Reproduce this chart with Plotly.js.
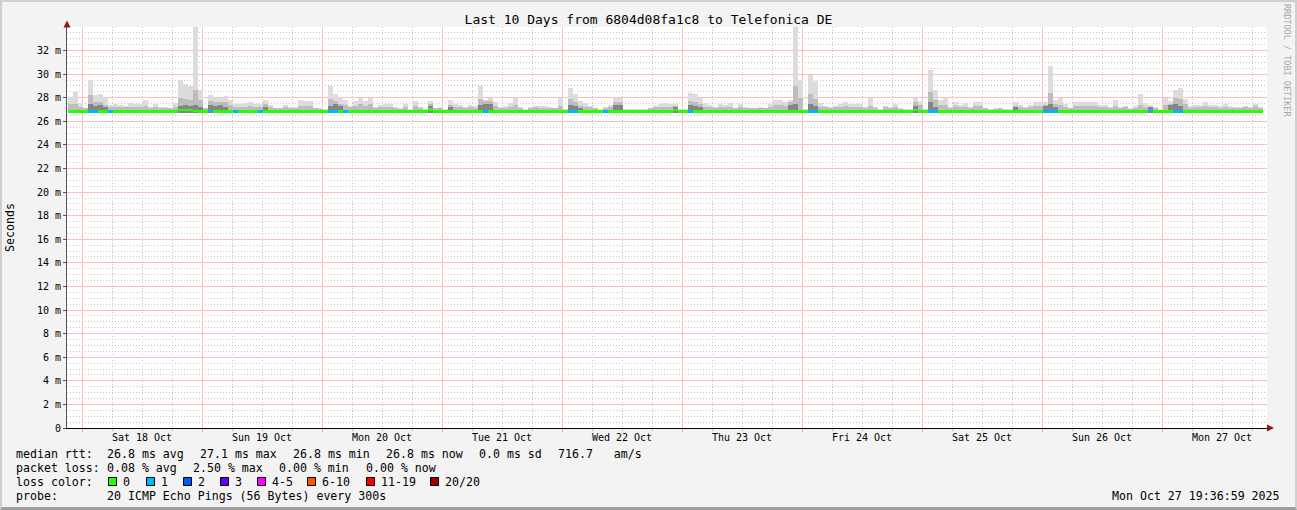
<!DOCTYPE html>
<html><head><meta charset="utf-8">
<script src="https://cdn.plot.ly/plotly-3.0.1.min.js"></script>
<style>
html,body{margin:0;padding:0;background:#f3f3f3;}
#wrap{position:relative;width:1297px;height:510px;overflow:hidden;}
#chart{width:1297px;height:510px;}
#frame{position:absolute;left:0;top:0;width:1297px;height:510px;box-sizing:border-box;border-style:solid;border-width:2px 2px 3px 2px;border-color:#cfcfcf #cfcfcf #9e9e9e #cfcfcf;pointer-events:none;}
</style></head><body>
<div id="wrap"><div id="chart"></div><div id="frame"></div></div>
<script>
// ---------- data (milliseconds, one value per hourly step) ----------
const firstStepCenter = '2025-10-17 21:42:00';
const stepHours = 1;
const smokeBase = 26.7;

const smokeMax = [
 28.05,28.47,27.59,27.15,29.54,28.27,28.35,28.00,27.39,27.45,27.39,27.33,
 27.56,27.45,27.45,27.79,27.22,27.50,27.22,27.22,27.16,27.56,29.49,29.20,
 28.97,33.96,28.69,27.16,28.27,28.00,28.00,28.18,27.84,27.45,27.50,27.56,
 27.67,27.45,27.45,27.79,27.39,27.16,27.16,27.39,27.22,27.22,27.79,27.70,
 27.73,27.16,27.11,27.05,29.03,28.35,27.96,27.84,27.33,27.73,28.00,27.73,
 28.00,27.22,27.39,27.45,27.45,27.22,27.11,27.45,27.05,27.73,27.22,27.05,
 27.73,27.16,27.22,27.05,27.84,27.45,27.39,27.22,27.39,27.28,29.03,27.84,
 27.96,27.67,27.22,27.28,27.56,28.00,27.22,27.05,27.22,27.33,27.28,27.28,
 27.22,27.16,28.00,27.05,28.86,28.35,27.73,27.56,27.33,27.16,27.05,27.22,
 27.39,28.00,27.96,27.05,27.05,27.05,27.05,27.05,27.16,27.33,27.45,27.56,
 27.45,27.45,27.05,27.05,28.41,28.30,28.00,27.56,27.39,27.22,27.50,27.39,
 27.56,27.16,27.45,27.22,27.16,27.16,27.22,27.16,27.45,27.84,27.79,27.67,
 27.84,34.00,29.49,27.05,29.94,29.43,27.56,27.33,27.22,27.33,27.45,27.67,
 27.45,27.45,27.45,27.22,27.96,27.22,27.05,27.33,27.22,27.45,27.11,27.05,
 27.05,27.96,27.73,27.05,30.33,28.69,27.79,28.00,27.22,27.62,27.39,27.56,
 27.22,27.62,27.62,27.16,27.05,27.11,27.16,27.05,27.05,27.62,27.39,27.22,
 27.39,27.62,27.62,27.67,30.73,27.79,27.96,27.45,27.16,27.62,27.62,27.62,
 27.62,27.62,27.39,27.39,27.22,27.79,27.22,27.33,27.11,27.28,28.35,27.56,
 27.39,27.22,27.05,27.96,27.73,28.63,28.80,27.90,27.28,27.39,27.39,27.62,
 27.39,27.39,27.28,27.50,27.28,27.22,27.22,27.33,27.22,27.45,27.22
];

const smokeMid = [
 27.5,27.5,27.2,27.1,28.2,27.6,27.6,27.4,27.2,27.2,27.2,27.2,
 27.2,27.2,27.2,27.3,27.1,27.2,27.1,27.1,27.1,27.2,28.0,27.9,
 27.8,28.7,27.8,27.1,27.7,27.6,27.6,27.6,27.4,27.2,27.2,27.2,
 27.3,27.2,27.2,27.5,27.2,27.1,27.1,27.2,27.1,27.1,27.3,27.3,
 27.3,27.1,27.05,27.0,27.9,27.7,27.5,27.4,27.2,27.3,27.5,27.3,
 27.5,27.1,27.2,27.2,27.2,27.1,27.05,27.2,27.0,27.3,27.1,27.0,
 27.5,27.1,27.1,27.0,27.4,27.2,27.2,27.1,27.2,27.1,27.9,27.7,
 27.7,27.3,27.1,27.1,27.2,27.4,27.1,27.0,27.1,27.2,27.1,27.1,
 27.1,27.1,27.3,27.0,27.9,27.6,27.3,27.2,27.2,27.1,27.0,27.1,
 27.2,27.6,27.6,27.0,27.0,27.0,27.0,27.0,27.1,27.2,27.2,27.2,
 27.2,27.3,27.0,27.0,27.7,27.6,27.5,27.2,27.2,27.1,27.2,27.2,
 27.2,27.1,27.2,27.1,27.1,27.1,27.1,27.1,27.2,27.4,27.4,27.3,
 27.6,29.0,28.0,27.0,28.3,27.9,27.2,27.2,27.1,27.2,27.2,27.3,
 27.2,27.2,27.2,27.1,27.3,27.1,27.0,27.2,27.1,27.2,27.05,27.0,
 27.0,27.6,27.4,27.0,28.5,27.8,27.4,27.4,27.1,27.3,27.2,27.2,
 27.1,27.3,27.3,27.1,27.0,27.05,27.1,27.0,27.0,27.3,27.2,27.1,
 27.2,27.3,27.3,27.4,28.4,27.5,27.4,27.2,27.1,27.3,27.3,27.3,
 27.3,27.3,27.2,27.2,27.1,27.3,27.1,27.2,27.05,27.1,27.4,27.2,
 27.2,27.1,27.0,27.4,27.5,28.0,27.9,27.5,27.1,27.2,27.2,27.3,
 27.2,27.2,27.1,27.2,27.1,27.1,27.1,27.2,27.1,27.3,27.1
];

const smokeLow = [
 27.0,27.0,27.0,27.0,27.5,27.3,27.4,27.2,27.0,27.0,27.0,27.0,
 27.0,27.0,27.0,27.0,27.0,27.0,27.0,27.0,27.0,27.0,27.3,27.4,
 27.3,27.4,27.2,27.0,27.4,27.3,27.4,27.2,27.0,27.0,27.0,27.0,
 27.0,27.0,27.0,27.2,27.0,27.0,27.0,27.0,27.0,27.0,27.0,27.0,
 27.0,27.0,27.0,27.0,27.3,27.5,27.3,27.0,27.0,27.0,27.0,27.0,
 27.0,27.0,27.0,27.0,27.0,27.0,27.0,27.0,27.0,27.0,27.0,27.0,
 27.3,27.0,27.0,27.0,27.2,27.0,27.0,27.0,27.0,27.0,27.4,27.5,
 27.5,27.0,27.0,27.0,27.0,27.0,27.0,27.0,27.0,27.0,27.0,27.0,
 27.0,27.0,27.0,27.0,27.4,27.3,27.1,27.0,27.0,27.0,27.0,27.0,
 27.0,27.4,27.4,27.0,27.0,27.0,27.0,27.0,27.0,27.0,27.0,27.0,
 27.0,27.2,27.0,27.0,27.4,27.3,27.2,27.0,27.0,27.0,27.0,27.0,
 27.0,27.0,27.0,27.0,27.0,27.0,27.0,27.0,27.0,27.0,27.0,27.0,
 27.4,27.5,27.0,27.0,27.5,27.3,27.0,27.0,27.0,27.0,27.0,27.0,
 27.0,27.0,27.0,27.0,27.0,27.0,27.0,27.0,27.0,27.0,27.0,27.0,
 27.0,27.3,27.0,27.0,27.6,27.2,27.0,27.0,27.0,27.0,27.0,27.0,
 27.0,27.0,27.0,27.0,27.0,27.0,27.0,27.0,27.0,27.2,27.0,27.0,
 27.0,27.0,27.0,27.3,27.5,27.2,27.0,27.0,27.0,27.0,27.0,27.0,
 27.0,27.0,27.0,27.0,27.0,27.0,27.0,27.0,27.0,27.0,27.0,27.0,
 27.2,27.0,27.0,27.0,27.4,27.5,27.3,27.0,27.0,27.0,27.0,27.0,
 27.0,27.0,27.0,27.0,27.0,27.0,27.0,27.0,27.0,27.0,27.0
];

const medianRtt = [
 26.85,26.85,26.85,26.85,26.85,26.85,26.85,26.85,26.85,26.85,26.85,26.85,
 26.85,26.85,26.85,26.85,26.85,26.85,26.85,26.85,26.85,26.85,26.95,26.95,
 26.95,26.90,26.85,26.85,26.90,26.85,26.85,26.85,26.85,26.85,26.85,26.85,
 26.85,26.85,26.85,26.85,26.85,26.85,26.85,26.85,26.85,26.85,26.85,26.85,
 26.85,26.85,26.85,26.85,26.85,26.85,26.85,26.85,26.85,26.85,26.85,26.85,
 26.85,26.85,26.85,26.85,26.85,26.85,26.85,26.85,26.85,26.85,26.85,26.85,
 27.00,26.85,26.85,26.85,26.85,26.85,26.85,26.85,26.85,26.85,26.85,26.85,
 26.85,26.85,26.85,26.85,26.85,26.85,26.85,26.85,26.85,26.85,26.85,26.85,
 26.85,26.85,26.85,26.85,26.85,26.85,26.85,26.85,26.85,26.85,26.85,26.85,
 26.85,26.85,26.85,26.85,26.85,26.85,26.85,26.85,26.85,26.85,26.85,26.85,
 26.85,26.95,26.85,26.85,26.85,26.85,26.85,26.85,26.85,26.85,26.85,26.85,
 26.85,26.85,26.85,26.85,26.85,26.85,26.85,26.85,26.85,26.85,26.85,26.85,
 26.85,26.85,26.85,26.85,26.85,26.85,26.85,26.85,26.85,26.85,26.85,26.85,
 26.85,26.85,26.85,26.85,26.85,26.85,26.85,26.85,26.85,26.85,26.85,26.85,
 26.85,26.95,26.85,26.85,26.85,26.85,26.85,26.85,26.85,26.85,26.85,26.85,
 26.85,26.85,26.85,26.85,26.85,26.85,26.85,26.85,26.85,26.85,26.85,26.85,
 26.85,26.85,26.85,26.85,26.85,26.85,26.85,26.85,26.85,26.85,26.85,26.85,
 26.85,26.85,26.85,26.85,26.85,26.85,26.85,26.85,26.85,26.85,26.85,26.85,
 26.95,26.85,26.85,26.85,26.85,26.85,26.85,26.85,26.85,26.85,26.85,26.85,
 26.85,26.85,26.85,26.85,26.85,26.85,26.85,26.85,26.85,26.85,26.85
];

const lostPings = [
 0,0,0,0,1,1,0,0,1,0,0,0,
 0,0,0,0,0,0,0,0,0,0,0,0,
 0,0,0,0,1,0,0,0,0,1,0,0,
 0,0,1,0,0,0,0,0,0,0,0,0,
 0,0,0,0,1,1,0,1,0,0,0,0,
 0,0,0,0,0,0,0,0,0,0,0,0,
 0,0,0,0,0,0,0,0,0,0,0,1,
 0,0,0,0,0,0,0,0,0,0,0,0,
 0,0,0,0,1,1,0,0,0,0,0,1,
 0,0,0,0,0,0,0,0,0,0,0,0,
 0,0,0,0,1,0,0,0,0,0,0,0,
 0,0,0,0,0,0,0,0,0,0,0,0,
 0,0,0,0,1,1,0,0,0,0,0,0,
 0,0,0,0,0,0,0,0,0,0,0,0,
 0,0,0,0,1,1,0,0,0,0,0,0,
 0,0,0,0,0,0,0,0,0,0,0,0,
 0,0,0,1,1,1,0,0,0,0,0,0,
 0,0,0,0,0,0,0,0,0,0,0,0,
 1,0,0,0,0,1,1,0,0,0,0,0,
 0,0,0,0,0,0,0,0,0,0,0
];

const lossLabels = ['0','1','2','3','4-5','6-10','11-19','20/20'];
const lossColors = ['#26ff00','#00b8ff','#0059ff','#5e00ff','#ff00ff','#ff5500','#ff0000','#a00000'];

const yTickVals = [0,2,4,6,8,10,12,14,16,18,20,22,24,26,28,30,32];
const yTickText = ['0','2 m','4 m','6 m','8 m','10 m','12 m','14 m','16 m','18 m','20 m','22 m','24 m','26 m','28 m','30 m','32 m'];

const titleText = 'Last 10 Days from 6804d08fa1c8 to Telefonica DE';
const statsRtt = ['median rtt:','26.8 ms avg','27.1 ms max','26.8 ms min','26.8 ms now','0.0 ms sd','716.7   am/s'];
const statsLoss = ['packet loss:','0.08 % avg','2.50 % max','0.00 % min','0.00 % now'];
const probeText = ['probe:','20 ICMP Echo Pings (56 Bytes) every 300s'];
const stampText = 'Mon Oct 27 19:36:59 2025';

// ---------- build ----------
const MONO = '"DejaVu Sans Mono", "Liberation Mono", monospace';
const stepMs = stepHours * 3600000;
const toMs = s => Date.parse(s.replace(' ', 'T') + 'Z');
function fmt(ms){ return new Date(ms).toISOString().slice(0,19).replace('T',' '); }
const t0 = toMs(firstStepCenter);
const times = smokeMax.map((_, i) => fmt(t0 + i * stepMs));

function band(top, color){
  return {type:'bar', x:times, base:smokeBase, y:top.map(v => v - smokeBase), width:stepMs,
    marker:{color:color, line:{width:0}}, hoverinfo:'skip', showlegend:false};
}
function lossIdx(c){ if(c<=3) return c; if(c<=5) return 4; if(c<=10) return 5; if(c<=19) return 6; return 7; }

const medHalf = 0.1;
const traces = [
  band(smokeMax, '#dcdcdc'),
  band(smokeMid, '#bdbdbd'),
  band(smokeLow, '#858585'),
  {type:'bar', x:times, base:medianRtt.map(v => v - medHalf), y:medianRtt.map(() => 2*medHalf), width:stepMs,
   marker:{color:lostPings.map(c => lossColors[lossIdx(c)]), line:{width:0}}, hoverinfo:'skip', showlegend:false}
];

// fine grid positions: every 6 h / 0.5 ms, skipping the major (midnight / 2 ms) lines
const xStart = '2025-10-17 21:00:00', xEnd = '2025-10-27 21:00:00';
const xMinor = [];
for (let t = toMs('2025-10-17 00:00:00'); t <= toMs(xEnd); t += 6*3600000) {
  if (t >= toMs(xStart) && new Date(t).getUTCHours() !== 0) xMinor.push(fmt(t));
}
const yMinor = [];
for (let k = 1; k <= 68; k++) { if (k % 4 !== 0) yMinor.push(k * 0.5); }

const L = 67, T = 27, W = 1200, H = 401;
const px = x => (x - L) / W, py = y => (T + H - y) / H;
const nb = s => s.replace(/ /g, '\u00a0');
const anns = [];
function txt(x, y, s, opt){
  anns.push(Object.assign({xref:'paper', yref:'paper', x:px(x), y:py(y), text:nb(s), showarrow:false,
    xanchor:'left', yanchor:'middle', borderpad:0, borderwidth:0,
    font:{family:MONO, size:11.6, color:'#000'}}, opt || {}));
}
const rttX = [16,107,200,293,386,479,558];
statsRtt.forEach((s,i) => txt(rttX[i], 454, s));
const lossX = [16,107,193,279,366];
statsLoss.forEach((s,i) => txt(lossX[i], 468, s));
txt(16, 482, 'loss color:');
const sqX = [108,146,183,220,257,307,366,430];
const shapes = [];
lossLabels.forEach((lab,i) => {
  shapes.push({type:'rect', xref:'paper', yref:'paper', x0:px(sqX[i]+0.5), x1:px(sqX[i]+8.5), y0:py(485.5), y1:py(477.5),
    fillcolor:lossColors[i], line:{color:'#000', width:1}});
  txt(sqX[i] + 15, 482, lab);
});
txt(16, 496, probeText[0]);
txt(107, 496, probeText[1]);
txt(1280, 496, stampText, {xanchor:'right'});
anns.push({xref:'paper', yref:'paper', x:px(1287), y:py(60), text:'RRDTOOL / TOBI OETIKER', textangle:90,
  showarrow:false, xanchor:'center', yanchor:'middle', font:{family:MONO, size:8.5, color:'#a8a8a8'}});

// axis arrows
shapes.push({type:'path', xref:'paper', yref:'paper', path:`M ${px(67)},${py(20.5)} L ${px(63.5)},${py(27.5)} L ${px(70.5)},${py(27.5)} Z`, fillcolor:'#8b1a1a', line:{width:0}});
shapes.push({type:'path', xref:'paper', yref:'paper', path:`M ${px(1267)},${py(424.5)} L ${px(1274)},${py(428)} L ${px(1267)},${py(431.5)} Z`, fillcolor:'#8b1a1a', line:{width:0}});

const redGrid = '#ffbebe';
const grayGrid = '#c8c8c8';
const layout = {
  width:1297, height:510, margin:{l:L, r:1297-L-W, t:T, b:510-T-H, pad:0},
  paper_bgcolor:'#f3f3f3', plot_bgcolor:'#ffffff',
  barmode:'overlay', bargap:0, showlegend:false,
  font:{family:MONO, size:11.6, color:'#000'},
  title:{text:titleText, font:{family:MONO, size:13, color:'#000'}, xref:'container', x:0.5, xanchor:'center',
    yref:'container', y:1 - 19/510, yanchor:'middle'},
  xaxis:{type:'date', range:[xStart, xEnd], fixedrange:true,
    tickmode:'linear', tick0:'2025-10-18 00:00:00', dtick:86400000, ticklabelmode:'period', tickformat:'%a %d %b',
    tickfont:{family:MONO, size:10, color:'#000'}, ticklabelstandoff:-3,
    showgrid:true, gridcolor:redGrid, griddash:'solid', gridwidth:1,
    ticks:'outside', ticklen:3, tickcolor:'#ff9a9a',
    showline:true, linecolor:'#000', linewidth:1, zeroline:false,
    minor:{tickmode:'array', tickvals:xMinor, showgrid:true, gridcolor:grayGrid, griddash:'1px,2px', gridwidth:1,
      ticks:'outside', ticklen:2, tickcolor:'#bbbbbb'}},
  yaxis:{range:[0,34], fixedrange:true, tickmode:'array', tickvals:yTickVals, ticktext:yTickText,
    tickfont:{family:MONO, size:10, color:'#000'},
    showgrid:true, gridcolor:redGrid, griddash:'solid', gridwidth:1,
    ticks:'outside', ticklen:3, tickcolor:'#555',
    showline:true, linecolor:'#555', linewidth:1, zeroline:false,
    minor:{tickmode:'array', tickvals:yMinor, showgrid:true, gridcolor:grayGrid, griddash:'1px,2px', gridwidth:1},
    title:{text:'Seconds', font:{family:MONO, size:11.6, color:'#000'}, standoff:19}},
  shapes:shapes, annotations:anns
};
Plotly.newPlot('chart', traces, layout, {staticPlot:true, displayModeBar:false});
</script></body></html>
